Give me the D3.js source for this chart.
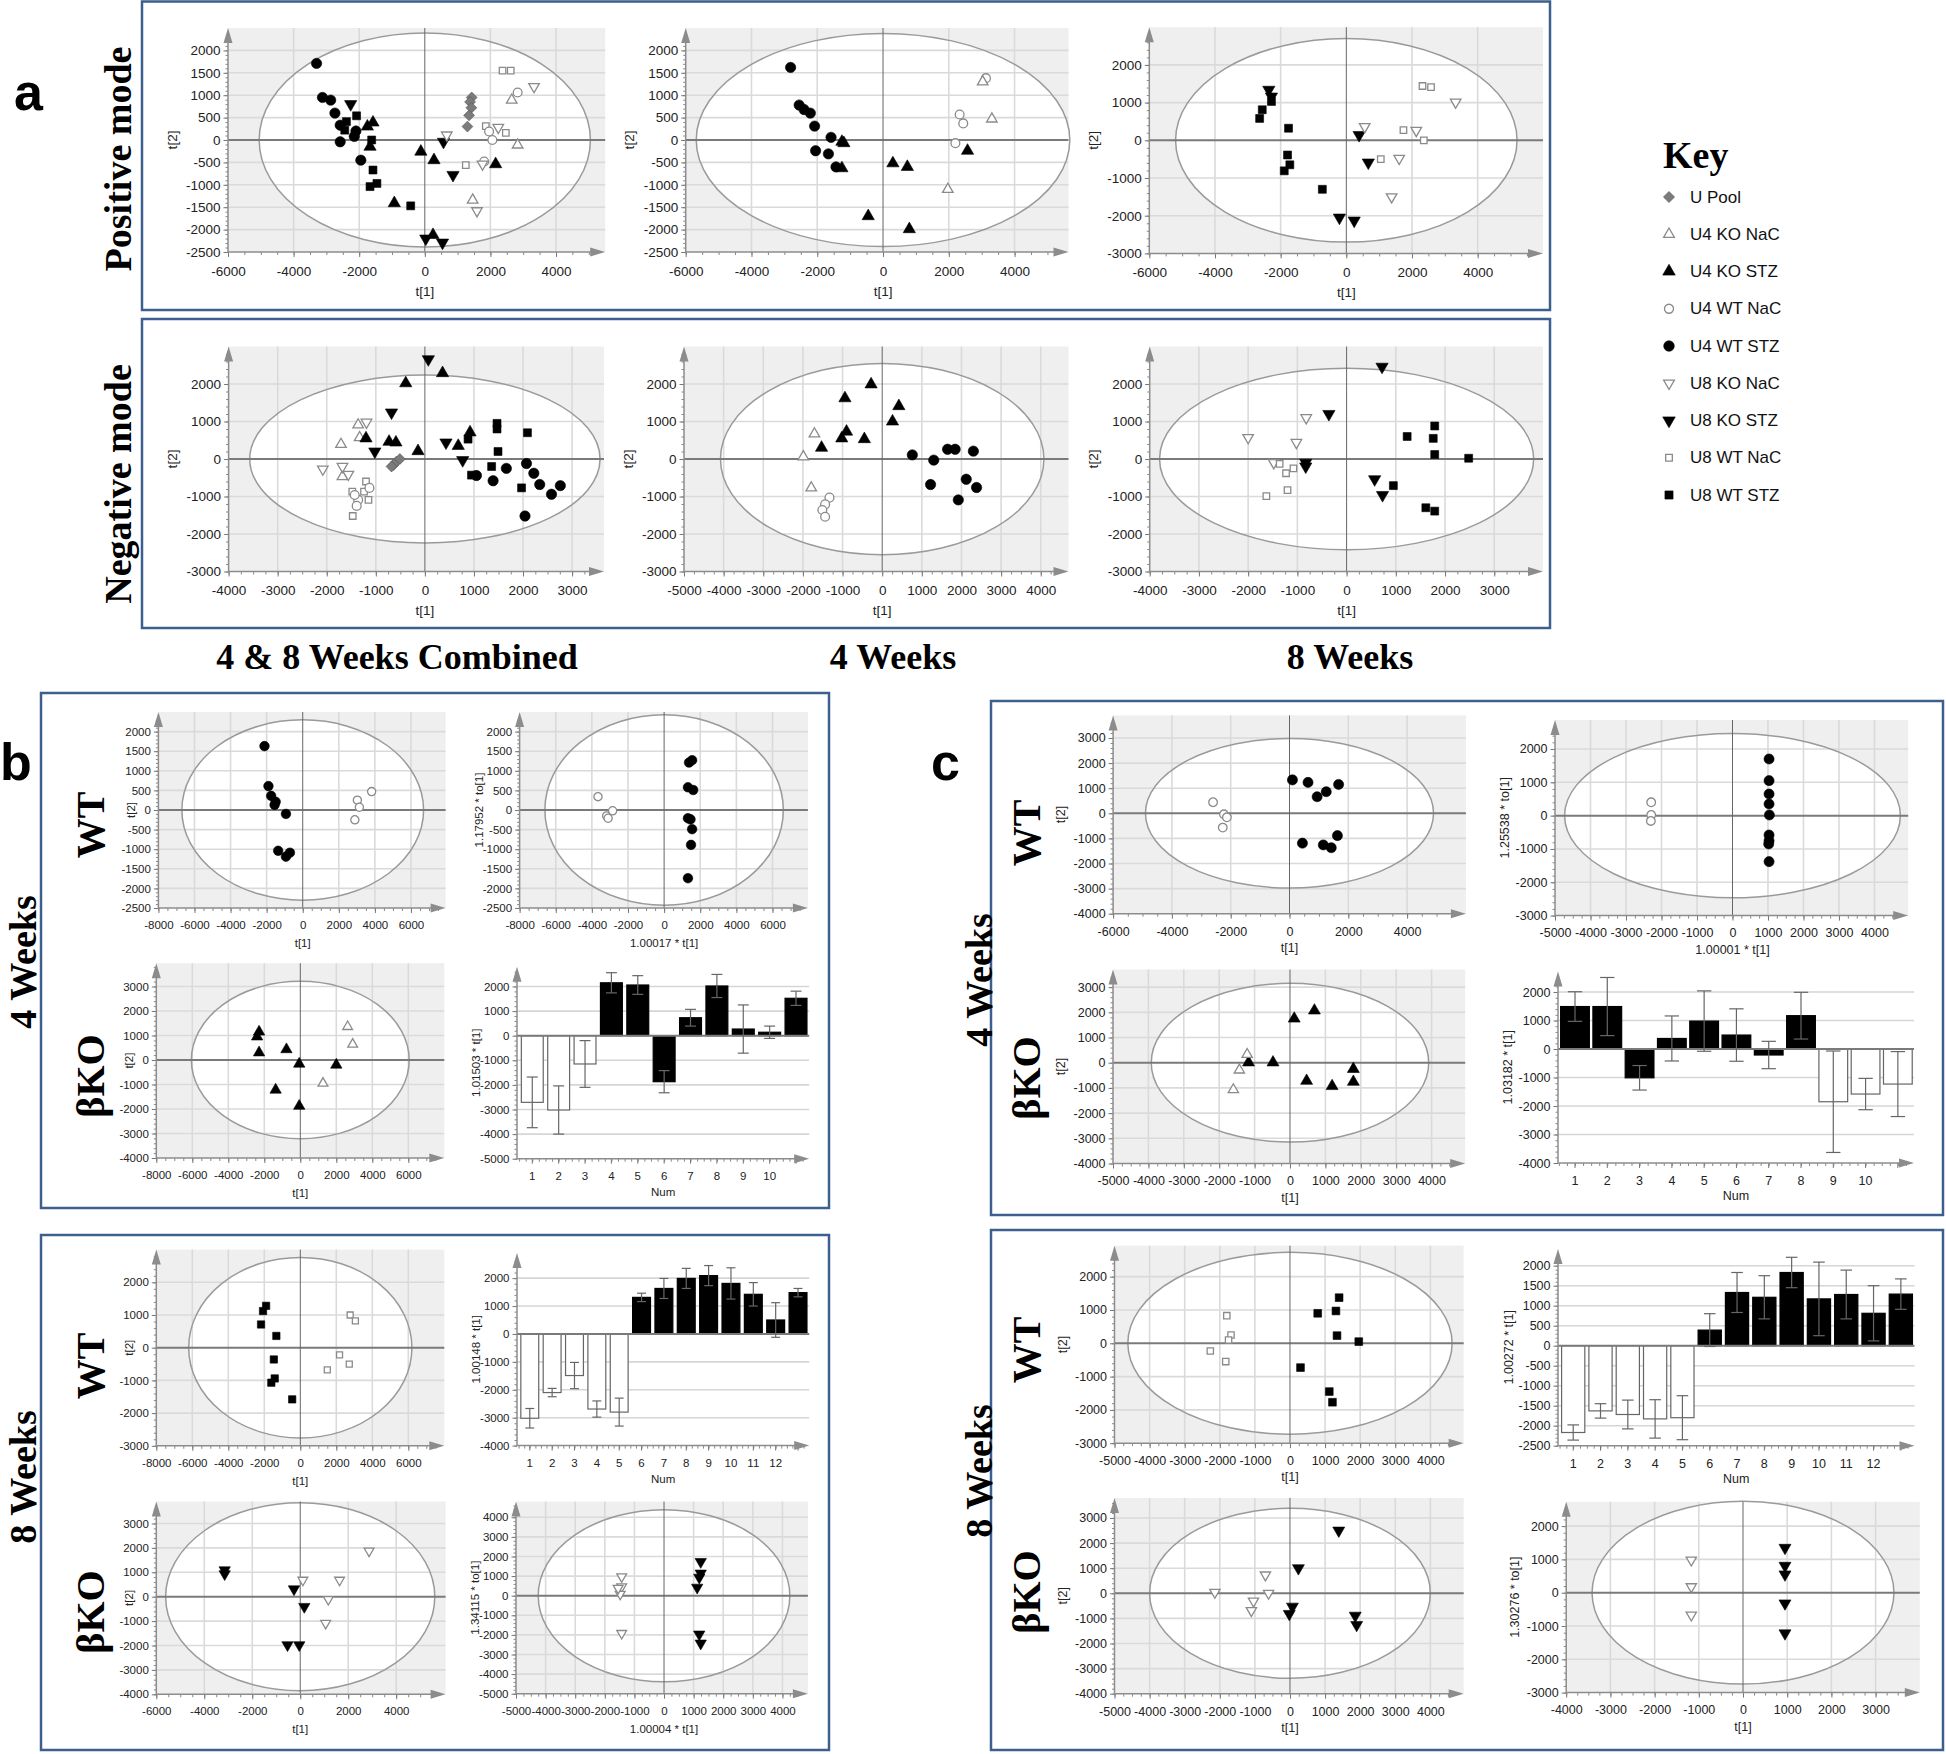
<!DOCTYPE html>
<html><head><meta charset="utf-8">
<script src="https://cdnjs.cloudflare.com/ajax/libs/d3/7.8.5/d3.min.js"></script>
<style>html,body{margin:0;padding:0;background:#fff}svg{display:block}</style>
</head><body>
<svg id="fig" width="1946" height="1754" xmlns="http://www.w3.org/2000/svg"></svg>
<script>
// ---------------- DATA ----------------
const legendGroups = ["U Pool","U4 KO NaC","U4 KO STZ","U4 WT NaC","U4 WT STZ","U8 KO NaC","U8 KO STZ","U8 WT NaC","U8 WT STZ"];

// Panel a, positive mode
const posCombined = [
 ["U4 WT STZ",-3300,1710],["U4 WT STZ",-3120,950],["U4 WT STZ",-2870,890],["U4 WT STZ",-2740,600],["U4 WT STZ",-2580,330],["U4 WT STZ",-2580,-40],["U4 WT STZ",-2100,200],["U4 WT STZ",-2150,80],["U4 WT STZ",-1950,-450],
 ["U4 KO STZ",-1580,390],["U4 KO STZ",-1750,300],["U4 KO STZ",-1670,-150],["U4 KO STZ",-930,-1410],["U4 KO STZ",-120,-260],["U4 KO STZ",280,-450],["U4 KO STZ",2160,-540],["U4 KO STZ",250,-2120],
 ["U8 WT STZ",-2080,540],["U8 WT STZ",-2390,410],["U8 WT STZ",-2440,220],["U8 WT STZ",-1620,0],["U8 WT STZ",-1580,-670],["U8 WT STZ",-1670,-1040],["U8 WT STZ",-1460,-970],["U8 WT STZ",-430,-1470],
 ["U8 KO STZ",-2260,800],["U8 KO STZ",570,-40],["U8 KO STZ",860,-780],["U8 KO STZ",30,-2200],["U8 KO STZ",540,-2290],
 ["U Pool",1430,950],["U Pool",1380,850],["U Pool",1420,720],["U Pool",1350,550],["U Pool",1300,300],
 ["U8 WT NaC",2370,1550],["U8 WT NaC",2620,1550],["U8 WT NaC",1860,310],["U8 WT NaC",2470,160],["U8 WT NaC",1250,-560],
 ["U4 WT NaC",2830,1060],["U4 WT NaC",1960,190],["U4 WT NaC",2060,0],["U4 WT NaC",1810,-480],
 ["U8 KO NaC",3330,1190],["U8 KO NaC",2240,280],["U8 KO NaC",670,110],["U8 KO NaC",1590,-1580],["U8 KO NaC",1760,-540],
 ["U4 KO NaC",2650,890],["U4 KO NaC",2830,-110],["U4 KO NaC",1460,-1340]
];
const pos4w = [
 ["U4 WT STZ",-2810,1620],["U4 WT STZ",-2550,780],["U4 WT STZ",-2400,680],["U4 WT STZ",-2210,600],["U4 WT STZ",-2080,310],["U4 WT STZ",-1580,60],["U4 WT STZ",-2050,-240],["U4 WT STZ",-1660,-310],["U4 WT STZ",-1430,-600],
 ["U4 KO STZ",-1250,-40],["U4 KO STZ",-1190,-70],["U4 KO STZ",-1250,-630],["U4 KO STZ",300,-520],["U4 KO STZ",740,-600],["U4 KO STZ",2570,-240],["U4 KO STZ",-450,-1700],["U4 KO STZ",800,-1990],
 ["U4 WT NaC",3130,1380],["U4 WT NaC",2330,570],["U4 WT NaC",2440,370],["U4 WT NaC",2200,-70],
 ["U4 KO NaC",3030,1300],["U4 KO NaC",3310,470],["U4 KO NaC",1970,-1100]
];
const pos8w = [
 ["U8 KO STZ",-2360,1340],["U8 KO STZ",-2280,1160],["U8 KO STZ",390,140],["U8 KO STZ",670,-590],["U8 KO STZ",-210,-2050],["U8 KO STZ",240,-2130],
 ["U8 WT STZ",-2280,1030],["U8 WT STZ",-2560,810],["U8 WT STZ",-2640,580],["U8 WT STZ",-1760,320],["U8 WT STZ",-1790,-390],["U8 WT STZ",-1720,-650],["U8 WT STZ",-1890,-810],["U8 WT STZ",-730,-1300],
 ["U8 WT NaC",2320,1440],["U8 WT NaC",2580,1410],["U8 WT NaC",1740,270],["U8 WT NaC",2360,0],["U8 WT NaC",1050,-500],
 ["U8 KO NaC",3330,1010],["U8 KO NaC",560,360],["U8 KO NaC",2130,260],["U8 KO NaC",1610,-480],["U8 KO NaC",1380,-1500]
];
// Panel a, negative mode
const negCombined = [
 ["U4 KO NaC",-1360,910],["U4 KO NaC",-1710,390],["U4 KO NaC",-1680,-470],["U4 KO NaC",-1330,570],
 ["U8 KO NaC",-1190,980],["U8 KO NaC",-2080,-270],["U8 KO NaC",-1680,-200],["U8 KO NaC",-1560,-410],
 ["U8 WT NaC",-1480,-870],["U8 WT NaC",-1200,-600],["U8 WT NaC",-1150,-1090],["U8 WT NaC",-1470,-1520],["U8 WT NaC",-1240,-870],
 ["U4 WT NaC",-1130,-770],["U4 WT NaC",-1360,-1090],["U4 WT NaC",-1390,-1250],["U4 WT NaC",-1430,-960],
 ["U Pool",-640,-160],["U Pool",-580,-70],["U Pool",-510,0],["U Pool",-680,-200],
 ["U4 KO STZ",-390,2020],["U4 KO STZ",360,2290],["U4 KO STZ",-1200,550],["U4 KO STZ",-730,460],["U4 KO STZ",-590,440],["U4 KO STZ",-140,210],["U4 KO STZ",680,350],["U4 KO STZ",920,710],
 ["U8 KO STZ",70,2660],["U8 KO STZ",-680,1240],["U8 KO STZ",-1020,200],["U8 KO STZ",430,440],["U8 KO STZ",770,-30],
 ["U8 WT STZ",1470,950],["U8 WT STZ",1470,800],["U8 WT STZ",880,530],["U8 WT STZ",2090,700],["U8 WT STZ",1490,200],["U8 WT STZ",1360,-200],["U8 WT STZ",950,-430],["U8 WT STZ",1970,-770],
 ["U4 WT STZ",1050,-440],["U4 WT STZ",1390,-580],["U4 WT STZ",1660,-250],["U4 WT STZ",2070,-120],["U4 WT STZ",2220,-380],["U4 WT STZ",2340,-680],["U4 WT STZ",2580,-940],["U4 WT STZ",2760,-710],["U4 WT STZ",2040,-1520]
];
const neg4w = [
 ["U4 KO NaC",-1710,670],["U4 KO NaC",-1990,60],["U4 KO NaC",-1790,-770],
 ["U4 WT NaC",-1330,-1030],["U4 WT NaC",-1440,-1210],["U4 WT NaC",-1510,-1360],["U4 WT NaC",-1440,-1540],
 ["U4 KO STZ",-940,1620],["U4 KO STZ",-280,1990],["U4 KO STZ",420,1410],["U4 KO STZ",260,1000],["U4 KO STZ",-900,730],["U4 KO STZ",-1020,550],["U4 KO STZ",-450,530],["U4 KO STZ",-1530,300],
 ["U4 WT STZ",760,110],["U4 WT STZ",1300,-30],["U4 WT STZ",1650,260],["U4 WT STZ",1840,260],["U4 WT STZ",2300,210],["U4 WT STZ",1220,-680],["U4 WT STZ",2120,-540],["U4 WT STZ",2380,-760],["U4 WT STZ",1920,-1090]
];
const neg8w = [
 ["U8 KO NaC",-2000,570],["U8 KO NaC",-820,1100],["U8 KO NaC",-1020,440],["U8 KO NaC",-1480,-100],
 ["U8 WT NaC",-1360,-130],["U8 WT NaC",-1080,-250],["U8 WT NaC",-1230,-380],["U8 WT NaC",-1200,-830],["U8 WT NaC",-1630,-990],
 ["U8 KO STZ",720,2460],["U8 KO STZ",-360,1200],["U8 KO STZ",-830,-100],["U8 KO STZ",-830,-200],["U8 KO STZ",570,-540],["U8 KO STZ",730,-960],
 ["U8 WT STZ",1230,600],["U8 WT STZ",1790,880],["U8 WT STZ",1760,550],["U8 WT STZ",1790,120],["U8 WT STZ",2480,20],["U8 WT STZ",950,-710],["U8 WT STZ",1610,-1300],["U8 WT STZ",1790,-1390]
];
// Panel b
const b4wWT = [
 ["U4 WT STZ",-2120,1630],["U4 WT STZ",-1900,610],["U4 WT STZ",-1750,360],["U4 WT STZ",-1500,210],["U4 WT STZ",-1560,130],["U4 WT STZ",-930,-100],["U4 WT STZ",-1360,-1040],["U4 WT STZ",-930,-1190],["U4 WT STZ",-710,-1090],
 ["U4 WT NaC",3820,470],["U4 WT NaC",3030,250],["U4 WT NaC",3140,70],["U4 WT NaC",2890,-250]
];
const b4wWTopls = [
 ["U4 WT STZ",1380,1210],["U4 WT STZ",1550,1270],["U4 WT STZ",1320,580],["U4 WT STZ",1610,510],["U4 WT STZ",1320,-210],["U4 WT STZ",1460,-240],["U4 WT STZ",1550,-490],["U4 WT STZ",1490,-890],["U4 WT STZ",1320,-1740],
 ["U4 WT NaC",-3660,340],["U4 WT NaC",-3180,-150],["U4 WT NaC",-2850,-20],["U4 WT NaC",-3100,-210]
];
const b4wKO = [
 ["U4 KO STZ",-2290,1150],["U4 KO STZ",-2400,950],["U4 KO STZ",-2290,300],["U4 KO STZ",-770,430],["U4 KO STZ",-60,-160],["U4 KO STZ",2000,-200],["U4 KO STZ",-1370,-1220],["U4 KO STZ",-60,-1880],
 ["U4 KO NaC",2630,1360],["U4 KO NaC",2910,640],["U4 KO NaC",1260,-950]
];
const b4wKOBarLabels = ["1","2","3","4","5","6","7","8","9","10",""];
const b4wKOBarValues = [-2710,-3020,-1150,2150,2060,-1870,730,2020,270,140,1520];
const b4wKOBarErrors = [1030,980,950,410,380,450,340,470,980,250,290];
const b4wKOBarGroups = ["NaC","NaC","NaC","STZ","STZ","STZ","STZ","STZ","STZ","STZ","STZ"];

const b8wWT = [
 ["U8 WT STZ",-1900,1280],["U8 WT STZ",-2070,1120],["U8 WT STZ",-2180,710],["U8 WT STZ",-1330,360],["U8 WT STZ",-1470,-360],["U8 WT STZ",-1420,-940],["U8 WT STZ",-1610,-1070],["U8 WT STZ",-450,-1580],
 ["U8 WT NaC",2770,1000],["U8 WT NaC",3060,820],["U8 WT NaC",2180,-220],["U8 WT NaC",2720,-500],["U8 WT NaC",1500,-680]
];
const b8wWTBarLabels = ["1","2","3","4","5","6","7","8","9","10","11","12",""];
const b8wWTBarValues = [-3020,-2100,-1490,-2690,-2800,1310,1630,1990,2090,1810,1420,500,1480];
const b8wWTBarErrors = [350,150,470,290,500,150,360,360,360,560,420,620,150];
const b8wWTBarGroups = ["NaC","NaC","NaC","NaC","NaC","STZ","STZ","STZ","STZ","STZ","STZ","STZ","STZ"];
const b8wKO = [
 ["U8 KO STZ",-3150,1090],["U8 KO STZ",-3150,930],["U8 KO STZ",-260,310],["U8 KO STZ",170,-410],["U8 KO STZ",-530,-1980],["U8 KO STZ",-40,-1980],
 ["U8 KO NaC",2870,1870],["U8 KO NaC",110,680],["U8 KO NaC",1640,680],["U8 KO NaC",1170,-110],["U8 KO NaC",1060,-1090]
];
const b8wKOopls = [
 ["U8 KO STZ",1240,1730],["U8 KO STZ",1240,1140],["U8 KO STZ",1190,930],["U8 KO STZ",1120,420],["U8 KO STZ",1190,-1970],["U8 KO STZ",1240,-2430],
 ["U8 KO NaC",-1430,970],["U8 KO NaC",-1430,460],["U8 KO NaC",-1480,80],["U8 KO NaC",-1430,-1920],["U8 KO NaC",-1550,380]
];
// Panel c
const c4wWT = [
 ["U4 WT STZ",100,1330],["U4 WT STZ",630,1230],["U4 WT STZ",1670,1150],["U4 WT STZ",1250,860],["U4 WT STZ",940,660],["U4 WT STZ",440,-1190],["U4 WT STZ",1630,-890],["U4 WT STZ",1150,-1260],["U4 WT STZ",1420,-1370],
 ["U4 WT NaC",-2600,440],["U4 WT NaC",-2230,-40],["U4 WT NaC",-2130,-160],["U4 WT NaC",-2270,-570]
];
const c4wWTopls = [
 ["U4 WT STZ",1030,1700],["U4 WT STZ",1030,1050],["U4 WT STZ",1030,650],["U4 WT STZ",1030,350],["U4 WT STZ",1040,20],["U4 WT STZ",1030,-580],["U4 WT STZ",1030,-750],["U4 WT STZ",1020,-850],["U4 WT STZ",1030,-1380],
 ["U4 WT NaC",-2290,400],["U4 WT NaC",-2290,20],["U4 WT NaC",-2300,-160]
];
const c4wKO = [
 ["U4 KO STZ",120,1750],["U4 KO STZ",690,2070],["U4 KO STZ",-1170,10],["U4 KO STZ",-480,10],["U4 KO STZ",470,-720],["U4 KO STZ",1190,-930],["U4 KO STZ",1790,-250],["U4 KO STZ",1790,-760],
 ["U4 KO NaC",-1210,330],["U4 KO NaC",-1430,-290],["U4 KO NaC",-1600,-1070]
];
const c4wKOBarLabels = ["1","2","3","4","5","6","7","8","9","10",""];
const c4wKOBarValues = [1490,1490,-1010,370,980,490,-210,1170,-1850,-1580,-1230];
const c4wKOBarErrors = [520,1020,430,790,1060,920,480,820,1780,550,1140];
const c4wKOBarGroups = ["STZ","STZ","STZ","STZ","STZ","STZ","STZ","STZ","NaC","NaC","NaC"];

const c8wWT = [
 ["U8 WT STZ",1400,1370],["U8 WT STZ",790,900],["U8 WT STZ",1310,970],["U8 WT STZ",1340,230],["U8 WT STZ",1960,50],["U8 WT STZ",300,-730],["U8 WT STZ",1120,-1450],["U8 WT STZ",1210,-1770],
 ["U8 WT NaC",-1800,830],["U8 WT NaC",-1680,250],["U8 WT NaC",-1750,100],["U8 WT NaC",-2270,-230],["U8 WT NaC",-1830,-550]
];
const c8wWTBarLabels = ["1","2","3","4","5","6","7","8","9","10","11","12",""];
const c8wWTBarValues = [-2170,-1630,-1720,-1830,-1800,390,1330,1210,1830,1170,1280,810,1290];
const c8wWTBarErrors = [190,180,360,480,550,410,500,540,380,920,610,690,380];
const c8wWTBarGroups = ["NaC","NaC","NaC","NaC","NaC","STZ","STZ","STZ","STZ","STZ","STZ","STZ","STZ"];
const c8wKO = [
 ["U8 KO STZ",1390,2500],["U8 KO STZ",240,1000],["U8 KO STZ",70,-530],["U8 KO STZ",-20,-820],["U8 KO STZ",1860,-890],["U8 KO STZ",1900,-1260],
 ["U8 KO NaC",-2140,40],["U8 KO NaC",-700,730],["U8 KO NaC",-610,0],["U8 KO NaC",-1040,-310],["U8 KO NaC",-1100,-690]
];
const c8wKOopls = [
 ["U8 KO STZ",950,1350],["U8 KO STZ",950,810],["U8 KO STZ",950,550],["U8 KO STZ",950,-320],["U8 KO STZ",950,-1220],
 ["U8 KO NaC",-1170,980],["U8 KO NaC",-1170,180],["U8 KO NaC",-1170,-670]
];

// ---------------- STYLE ----------------
const SANS = "'Liberation Sans', Arial, Helvetica, sans-serif";
const SERIF = "'Liberation Serif', 'Times New Roman', Times, serif";
const BOX = "#3d5f8e";
const groupStyle = {
 "U Pool":{shape:"diamond",kind:"pool"},
 "U4 KO NaC":{shape:"triUp",kind:"open"},
 "U4 KO STZ":{shape:"triUp",kind:"filled"},
 "U4 WT NaC":{shape:"circle",kind:"open"},
 "U4 WT STZ":{shape:"circle",kind:"filled"},
 "U8 KO NaC":{shape:"triDown",kind:"open"},
 "U8 KO STZ":{shape:"triDown",kind:"filled"},
 "U8 WT NaC":{shape:"square",kind:"open"},
 "U8 WT STZ":{shape:"square",kind:"filled"}
};
const SYM = {circle:d3.symbolCircle, triUp:d3.symbolTriangle, triDown:d3.symbolTriangle, square:d3.symbolSquare, diamond:d3.symbolSquare};
const ROT = {circle:0, triUp:0, triDown:180, square:0, diamond:45};
const SIZE = {circle:{filled:80,open:58}, triUp:{filled:62,open:46}, triDown:{filled:62,open:46}, square:{filled:60,open:40}, diamond:{pool:56}};
const FILL = {filled:"#000", open:"#fff", pool:"#7b7b7b"};
const STROKE = {filled:"#000", open:"#8a8a8a", pool:"#555"};

const svg = d3.select("#fig");

function styleMarker(sel, group, k){
  const st = groupStyle[group];
  sel.attr("d", d3.symbol(SYM[st.shape], SIZE[st.shape][st.kind]*k)())
     .attr("fill", FILL[st.kind]).attr("stroke", STROKE[st.kind])
     .attr("stroke-width", st.kind === "open" ? 1.3 : 0.6);
}
function rangeTicks(a, b, step){ return d3.range(Math.ceil(a/step)*step, b + step*0.01, step); }

function yAxisDraw(g, y, L, B, T, ticks, minor, fs){
  const m = g.append("g").attr("transform", `translate(${L},0)`)
    .call(d3.axisLeft(y).tickValues(minor).tickSize(2.5).tickFormat(""));
  m.select(".domain").remove(); m.selectAll("line").attr("stroke", "#888");
  const a = g.append("g").attr("transform", `translate(${L},0)`)
    .call(d3.axisLeft(y).tickValues(ticks).tickSize(4.5).tickPadding(3).tickFormat(d => String(d)));
  a.select(".domain").remove(); a.selectAll("line").attr("stroke", "#777");
  a.selectAll("text").attr("font-family", SANS).attr("font-size", fs).attr("fill", "#222");
  g.append("line").attr("x1", L).attr("x2", L).attr("y1", B).attr("y2", T + 12).attr("stroke", "#8c8c8c").attr("stroke-width", 1.5);
  g.append("path").attr("d", `M${L},${T} L${L-4.5},${T+15} L${L+4.5},${T+15} Z`).attr("fill", "#8c8c8c");
}
function xArrow(g, L, R, B){
  g.append("line").attr("x1", L).attr("x2", R - 12).attr("y1", B).attr("y2", B).attr("stroke", "#8c8c8c").attr("stroke-width", 1.5);
  g.append("path").attr("d", `M${R},${B} L${R-15},${B-4.5} L${R-15},${B+4.5} Z`).attr("fill", "#8c8c8c");
}

function scatter(cfg, rows){
  const g = svg.append("g");
  const x = d3.scaleLinear().domain(cfg.xd).range(cfg.px);
  const y = d3.scaleLinear().domain(cfg.yd).range(cfg.py);
  const [L, R] = cfg.px, [B, T] = cfg.py;
  g.append("rect").attr("x", L).attr("y", T).attr("width", R - L).attr("height", B - T).attr("fill", "#efefef");
  const rx = x(cfg.ell[0]) - x(0), ry = y(0) - y(cfg.ell[1]);
  g.append("ellipse").attr("cx", x(0)).attr("cy", y(0)).attr("rx", rx).attr("ry", ry).attr("fill", "#fff");
  const xt = rangeTicks(cfg.xt[0], cfg.xt[1], cfg.xt[2]);
  const yt = rangeTicks(cfg.yt[0], cfg.yt[1], cfg.yt[2]);
  g.append("g").selectAll("line").data(xt.filter(v => v !== 0 && v !== cfg.xd[0])).join("line")
    .attr("x1", d => x(d)).attr("x2", d => x(d)).attr("y1", T).attr("y2", B).attr("stroke", "#dadada").attr("stroke-width", 1.6);
  g.append("g").selectAll("line").data(yt.filter(v => v !== 0 && v !== cfg.yd[0])).join("line")
    .attr("y1", d => y(d)).attr("y2", d => y(d)).attr("x1", L).attr("x2", R).attr("stroke", "#dadada").attr("stroke-width", 1.6);
  g.append("ellipse").attr("cx", x(0)).attr("cy", y(0)).attr("rx", rx).attr("ry", ry)
    .attr("fill", "none").attr("stroke", "#9a9a9a").attr("stroke-width", 1.5);
  g.append("line").attr("x1", L).attr("x2", R).attr("y1", y(0)).attr("y2", y(0)).attr("stroke", "#7a7a7a").attr("stroke-width", 2);
  g.append("line").attr("x1", x(0)).attr("x2", x(0)).attr("y1", T).attr("y2", B).attr("stroke", "#666").attr("stroke-width", 1);
  // axes
  const xm = g.append("g").attr("transform", `translate(0,${B})`)
    .call(d3.axisBottom(x).tickValues(rangeTicks(cfg.xd[0], cfg.xd[1] - 300, cfg.xt[2] / 4)).tickSize(3).tickFormat(""));
  xm.select(".domain").remove(); xm.selectAll("line").attr("stroke", "#888");
  const xa = g.append("g").attr("transform", `translate(0,${B})`)
    .call(d3.axisBottom(x).tickValues(xt).tickSize(5).tickPadding(cfg.pad).tickFormat(d => String(d)));
  xa.select(".domain").remove(); xa.selectAll("line").attr("stroke", "#777");
  xa.selectAll("text").attr("font-family", SANS).attr("font-size", cfg.fs).attr("fill", "#222");
  yAxisDraw(g, y, L, B, T, yt, rangeTicks(cfg.yd[0], cfg.yd[1] - 150, cfg.yt[2] / 5), cfg.fs);
  xArrow(g, L, R, B);
  // labels
  g.append("text").attr("x", x(0)).attr("y", B + cfg.xlOff).attr("text-anchor", "middle").attr("dominant-baseline", "central")
    .attr("font-family", SANS).attr("font-size", cfg.fs).attr("fill", "#222").text(cfg.xlab || "t[1]");
  g.append("text").attr("transform", `translate(${L + cfg.ylOff},${(B + T) / 2}) rotate(-90)`).attr("text-anchor", "middle").attr("dominant-baseline", "central")
    .attr("font-family", SANS).attr("font-size", cfg.fs).attr("fill", "#222").text(cfg.ylab || "t[2]");
  // points
  g.append("g").selectAll("path").data(rows).join("path")
    .each(function(d){ styleMarker(d3.select(this), d[0], cfg.k); })
    .attr("transform", d => `translate(${x(d[1])},${y(d[2])}) rotate(${ROT[groupStyle[d[0]].shape]})`);
}

function barChart(cfg, labels, vals, errs, grps){
  const g = svg.append("g");
  const n = vals.length;
  const xb = d3.scaleBand().domain(d3.range(n)).range(cfg.band).paddingInner(cfg.padIn).paddingOuter(cfg.padIn / 2);
  const xl = d3.scaleLinear().domain([0, n]).range(cfg.band);
  const y = d3.scaleLinear().domain(cfg.yd).range(cfg.py);
  const [B, T] = cfg.py, L = cfg.ax, R = cfg.band[1];
  const yt = rangeTicks(cfg.yt[0], cfg.yt[1], cfg.yt[2]);
  g.append("g").selectAll("line").data(yt.filter(v => v !== 0 && v !== cfg.yd[0])).join("line")
    .attr("y1", d => y(d)).attr("y2", d => y(d)).attr("x1", L).attr("x2", R).attr("stroke", "#d6d6d6").attr("stroke-width", 1.6);
  g.append("g").selectAll("rect").data(vals).join("rect")
    .attr("x", (d, i) => xb(i)).attr("width", xb.bandwidth())
    .attr("y", d => y(Math.max(0, d))).attr("height", d => Math.abs(y(d) - y(0)))
    .attr("fill", (d, i) => grps[i] === "STZ" ? "#000" : "#fff")
    .attr("stroke", (d, i) => grps[i] === "STZ" ? "#000" : "#666").attr("stroke-width", 1.2);
  g.append("line").attr("x1", L).attr("x2", R).attr("y1", y(0)).attr("y2", y(0)).attr("stroke", "#7a7a7a").attr("stroke-width", 2);
  const cw = xb.bandwidth() * 0.25;
  const eb = g.append("g").attr("stroke", "#666").attr("stroke-width", 1.2);
  vals.forEach((v, i) => {
    const cx = xb(i) + xb.bandwidth() / 2;
    eb.append("line").attr("x1", cx).attr("x2", cx).attr("y1", y(v + errs[i])).attr("y2", y(v - errs[i]));
    eb.append("line").attr("x1", cx - cw).attr("x2", cx + cw).attr("y1", y(v + errs[i])).attr("y2", y(v + errs[i]));
    eb.append("line").attr("x1", cx - cw).attr("x2", cx + cw).attr("y1", y(v - errs[i])).attr("y2", y(v - errs[i]));
  });
  const xm = g.append("g").attr("transform", `translate(0,${B})`)
    .call(d3.axisBottom(xl).tickValues(d3.range(0, n, 0.25)).tickSize(3).tickFormat(""));
  xm.select(".domain").remove(); xm.selectAll("line").attr("stroke", "#888");
  const xa = g.append("g").attr("transform", `translate(0,${B})`)
    .call(d3.axisBottom(xb).tickSize(5).tickPadding(cfg.pad).tickFormat(i => labels[i]));
  xa.select(".domain").remove(); xa.selectAll("line").attr("stroke", "#777");
  xa.selectAll("text").attr("font-family", SANS).attr("font-size", cfg.fs).attr("fill", "#222");
  yAxisDraw(g, y, L, B, T, yt, rangeTicks(cfg.yd[0], cfg.yd[1] - 150, cfg.yt[2] / 5), cfg.fs);
  xArrow(g, L, R, B);
  g.append("text").attr("x", (L + R) / 2).attr("y", B + cfg.xlOff).attr("text-anchor", "middle").attr("dominant-baseline", "central")
    .attr("font-family", SANS).attr("font-size", cfg.fs).attr("fill", "#222").text("Num");
  g.append("text").attr("transform", `translate(${L + cfg.ylOff},${(B + T) / 2}) rotate(-90)`).attr("text-anchor", "middle").attr("dominant-baseline", "central")
    .attr("font-family", SANS).attr("font-size", cfg.fs).attr("fill", "#222").text(cfg.ylab);
}

// ---------------- BOXES ----------------
const boxes = [[142,1.5,1408,308.5],[142,319,1408,309],[41,693,788,515],[41,1235,788,515],[991,701,952,514],[991,1230,952,520]];
svg.append("g").selectAll("rect").data(boxes).join("rect")
  .attr("x", d => d[0]).attr("y", d => d[1]).attr("width", d => d[2]).attr("height", d => d[3])
  .attr("fill", "none").attr("stroke", BOX).attr("stroke-width", 2.5);

// ---------------- PANEL a ----------------
const A = {fs:13.5, k:1.05, pad:9, xlOff:39, ylOff:-56};
scatter({...A, px:[228,605.2], xd:[-6000,5500], py:[252,28], yd:[-2500,2500], xt:[-6000,4000,2000], yt:[-2500,2000,500], ell:[5050,2390]}, posCombined);
scatter({...A, px:[685.7,1068.5], xd:[-6000,5640], py:[252,28], yd:[-2500,2500], xt:[-6000,4000,2000], yt:[-2500,2000,500], ell:[5680,2380]}, pos4w);
scatter({...A, px:[1149.3,1543], xd:[-6000,5990], py:[253.4,27.2], yd:[-3000,3000], xt:[-6000,4000,2000], yt:[-3000,2000,1000], ell:[5200,2700]}, pos8w);
scatter({...A, px:[228.6,604], xd:[-4000,3650], py:[571.5,346.5], yd:[-3000,3000], xt:[-4000,3000,1000], yt:[-3000,2000,1000], ell:[3570,2240]}, negCombined);
scatter({...A, px:[684,1068.5], xd:[-5000,4700], py:[571.5,346.5], yd:[-3000,3000], xt:[-5000,4000,1000], yt:[-3000,2000,1000], ell:[4080,2550]}, neg4w);
scatter({...A, px:[1149.7,1543], xd:[-4000,3990], py:[571.5,346.5], yd:[-3000,3000], xt:[-4000,3000,1000], yt:[-3000,2000,1000], ell:[3800,2420]}, neg8w);

// ---------------- PANEL b ----------------
const Bc = {fs:11.5, k:0.9, pad:8, xlOff:35, ylOff:-27};
scatter({...Bc, px:[158.4,445.6], xd:[-8000,7920], py:[908,712], yd:[-2500,2500], xt:[-8000,6000,2000], yt:[-2500,2000,500], ell:[6700,2300]}, b4wWT);
scatter({...Bc, ylOff:-41, xlab:"1.00017 * t[1]", ylab:"1.17952 * to[1]", px:[519.6,807.9], xd:[-8000,7960], py:[908,712], yd:[-2500,2500], xt:[-8000,6000,2000], yt:[-2500,2000,500], ell:[6600,2430]}, b4wWTopls);
scatter({...Bc, px:[156.3,444.3], xd:[-8000,8000], py:[1158,963.2], yd:[-4000,3950], xt:[-8000,6000,2000], yt:[-4000,3000,1000], ell:[6050,3210]}, b4wKO);
barChart({fs:11.5, pad:8, xlOff:33, ylOff:-41, ax:517, band:[519.1,809.2], padIn:0.17, py:[1158.7,966.8], yd:[-5000,2800], yt:[-5000,2000,1000], ylab:"1.01503 * t[1]"},
  b4wKOBarLabels, b4wKOBarValues, b4wKOBarErrors, b4wKOBarGroups);
scatter({...Bc, px:[156.3,444.3], xd:[-8000,8000], py:[1445.8,1249.6], yd:[-3000,3000], xt:[-8000,6000,2000], yt:[-3000,2000,1000], ell:[6200,2760]}, b8wWT);
barChart({fs:11.5, pad:8, xlOff:33, ylOff:-41, ax:517, band:[518.6,809.2], padIn:0.2, py:[1445.6,1253], yd:[-4000,2900], yt:[-4000,2000,1000], ylab:"1.00148 * t[1]"},
  b8wWTBarLabels, b8wWTBarValues, b8wWTBarErrors, b8wWTBarGroups);
scatter({...Bc, px:[156.3,445.6], xd:[-6000,6060], py:[1694.3,1501.5], yd:[-4000,3900], xt:[-6000,4000,2000], yt:[-4000,3000,1000], ell:[5610,3850]}, b8wKO);
scatter({...Bc, ylOff:-41, xlab:"1.00004 * t[1]", ylab:"1.34115 * to[1]", px:[516,807.9], xd:[-5000,4860], py:[1693.7,1501.6], yd:[-5000,4800], xt:[-5000,4000,1000], yt:[-5000,4000,1000], ell:[4250,4390]}, b8wKOopls);

// ---------------- PANEL c ----------------
const Cc = {fs:12.5, k:1.0, pad:8, xlOff:34, ylOff:-52};
scatter({...Cc, px:[1113.1,1465.9], xd:[-6000,6000], py:[913.7,715.4], yd:[-4000,3900], xt:[-6000,4000,2000], yt:[-4000,3000,1000], ell:[4900,2980]}, c4wWT);
scatter({...Cc, ylOff:-50, xlab:"1.00001 * t[1]", ylab:"1.25538 * to[1]", px:[1555,1908.2], xd:[-5000,4950], py:[915.6,720], yd:[-3000,2870], xt:[-5000,4000,1000], yt:[-3000,2000,1000], ell:[4730,2465]}, c4wWTopls);
scatter({...Cc, px:[1113,1465.2], xd:[-5000,4950], py:[1163.5,969.5], yd:[-4000,3700], xt:[-5000,4000,1000], yt:[-4000,3000,1000], ell:[3920,3150]}, c4wKO);
barChart({fs:12.5, pad:8, xlOff:33, ylOff:-50, ax:1558, band:[1558.85,1914], padIn:0.11, py:[1163,971.5], yd:[-4000,2720], yt:[-4000,2000,1000], ylab:"1.03182 * t[1]"},
  c4wKOBarLabels, c4wKOBarValues, c4wKOBarErrors, c4wKOBarGroups);
scatter({...Cc, px:[1114.5,1463.7], xd:[-5000,4950], py:[1443.2,1245.7], yd:[-3000,2930], xt:[-5000,4000,1000], yt:[-3000,2000,1000], ell:[4620,2730]}, c8wWT);
barChart({fs:12.5, pad:8, xlOff:33, ylOff:-49, ax:1558, band:[1559.55,1914.5], padIn:0.15, py:[1445.7,1248.9], yd:[-2500,2420], yt:[-2500,2000,500], ylab:"1.00272 * t[1]"},
  c8wWTBarLabels, c8wWTBarValues, c8wWTBarErrors, c8wWTBarGroups);
scatter({...Cc, px:[1114.5,1463.7], xd:[-5000,4950], py:[1693.7,1497.9], yd:[-4000,3800], xt:[-5000,4000,1000], yt:[-4000,3000,1000], ell:[4000,3385]}, c8wKO);
scatter({...Cc, ylOff:-51, ylab:"1.30276 * to[1]", px:[1566.2,1919.8], xd:[-4000,4000], py:[1692.6,1501.8], yd:[-3000,2730], xt:[-4000,3000,1000], yt:[-3000,2000,1000], ell:[3415,2745]}, c8wKOopls);

// ---------------- BIG LABELS ----------------
function serifLabel(txt, x, y, size, rot, anchor){
  svg.append("text").attr("transform", `translate(${x},${y}) rotate(${rot||0})`)
    .attr("text-anchor", anchor || "middle").attr("font-family", SERIF).attr("font-weight", "bold")
    .attr("font-size", size).attr("fill", "#000").text(txt);
}
serifLabel("Positive mode", 131, 159, 38, -90);
serifLabel("Negative mode", 131, 484, 38, -90);
serifLabel("4 & 8 Weeks Combined", 397, 669, 36);
serifLabel("4 Weeks", 893, 669, 36);
serifLabel("8 Weeks", 1350, 669, 36);
serifLabel("Key", 1663, 168, 38, 0, "start");
serifLabel("WT", 104, 825, 40, -90);
serifLabel("βKO", 104, 1076, 40, -90);
serifLabel("WT", 104, 1366, 40, -90);
serifLabel("βKO", 104, 1612, 40, -90);
serifLabel("WT", 1040, 833, 40, -90);
serifLabel("βKO", 1040, 1078, 40, -90);
serifLabel("WT", 1040, 1350, 40, -90);
serifLabel("βKO", 1040, 1592, 40, -90);
serifLabel("4 Weeks", 36, 962, 38, -90);
serifLabel("8 Weeks", 36, 1477, 38, -90);
serifLabel("4 Weeks", 992, 980, 38, -90);
serifLabel("8 Weeks", 992, 1471, 38, -90);

function panelLetter(t, x, y){
  svg.append("text").attr("x", x).attr("y", y).attr("font-family", SANS).attr("font-weight", "bold")
    .attr("font-size", 52).attr("fill", "#000").text(t);
}
panelLetter("a", 14, 110);
panelLetter("b", 0, 780);
panelLetter("c", 931, 780);

// ---------------- KEY ----------------
const keyY = d3.scalePoint().domain(legendGroups).range([197, 495]);
const key = svg.append("g");
key.selectAll("path").data(legendGroups).join("path")
  .each(function(d){ styleMarker(d3.select(this), d, 1.1); })
  .attr("transform", d => `translate(1669,${keyY(d)}) rotate(${ROT[groupStyle[d].shape]})`);
key.selectAll("text").data(legendGroups).join("text")
  .attr("x", 1690).attr("y", d => keyY(d)).attr("dominant-baseline", "central")
  .attr("font-family", SANS).attr("font-size", 17).attr("fill", "#111").text(d => d);
</script></body></html>
